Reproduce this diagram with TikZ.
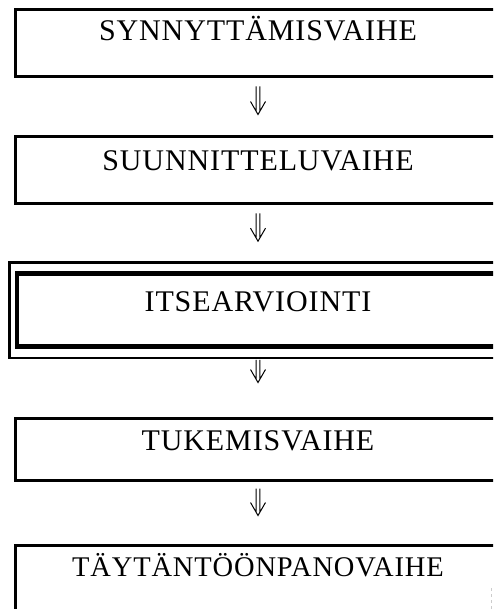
\documentclass[tikz,border=0pt]{standalone}
\usepackage{fontspec}
\setmainfont{Liberation Serif}[LetterSpace=3]
\usetikzlibrary{calc}

\tikzset{
  stagebox/.style={draw=black, line width=3pt, rectangle, inner sep=0pt,
    minimum width=486pt},
  stagetext/.style={anchor=base, inner sep=0pt, font=\fontsize{30}{33}\selectfont},
  % hollow double-shafted downward arrow (like a \Downarrow glyph)
  dblarrow/.style={line width=1pt, to path={
    let \p1=(\tikztostart), \p2=(\tikztotarget) in
      (\x1-1.8pt,\y1) -- (\x1-1.8pt,\y2+3pt)
      (\x1+1.8pt,\y1) -- (\x1+1.8pt,\y2+3pt)
      (\x1-7.5pt,\y2+13pt) -- (\x1,\y2) -- (\x1+7.5pt,\y2+13pt)}},
}

\begin{document}
\begin{tikzpicture}[x=1pt, y=-1pt]
  \useasboundingbox (0,0) rectangle (493,609);
  \clip (0,0) rectangle (493,609);

  % stage boxes
  \node[stagebox, minimum height=67pt] (b1) at (258,43.5) {};
  \node[stagebox, minimum height=67pt] (b2) at (258,170.5) {};
  \node[stagebox, line width=3.6pt, minimum width=482.6pt, minimum height=74pt] (b3) at (258,310) {};
  \node[stagebox, minimum height=62pt] (b4) at (258,449) {};
  \node[stagebox, minimum height=75pt] (b5) at (258,582.5) {};

  % frame lines around the highlighted box
  \draw[line width=2.6pt] ([shift={(-5.2pt,9pt)}]b3.north west) rectangle ([shift={(5.2pt,-9pt)}]b3.south east);
  \draw[line width=1pt] ([shift={(3.8pt,-4.5pt)}]b3.north west) rectangle ([shift={(-3.8pt,4.5pt)}]b3.south east);

  % faint right edge of the last box
  \draw[gray!40, line width=0.8pt, dashed] (491,588) -- (491,609);

  % labels
  \node[stagetext] (t1) at ([yshift=-32pt]b1.north) {SYNNYTTÄMISVAIHE};
  \node[stagetext] (t2) at ([yshift=-35pt]b2.north) {SUUNNITTELUVAIHE};
  \node[stagetext] (t3) at ([yshift=-40pt]b3.north) {ITSEARVIOINTI};
  \node[stagetext] (t4) at ([yshift=-34pt]b4.north) {TUKEMISVAIHE};
  \node[stagetext, font=\fontsize{28.5}{31}\selectfont] (t5) at ([yshift=-33pt]b5.north) {TÄYTÄNTÖÖNPANOVAIHE};

  % arrows between stages
  \draw[dblarrow] ([yshift=-8pt]b1.south) to ([yshift=21pt]b2.north);
  \draw[dblarrow] ([yshift=-8pt]b2.south) to ([yshift=30pt]b3.north);
  \draw[dblarrow] ([yshift=-11pt]b3.south) to ([yshift=34pt]b4.north);
  \draw[dblarrow] ([yshift=-7pt]b4.south) to ([yshift=28pt]b5.north);
\end{tikzpicture}
\end{document}
